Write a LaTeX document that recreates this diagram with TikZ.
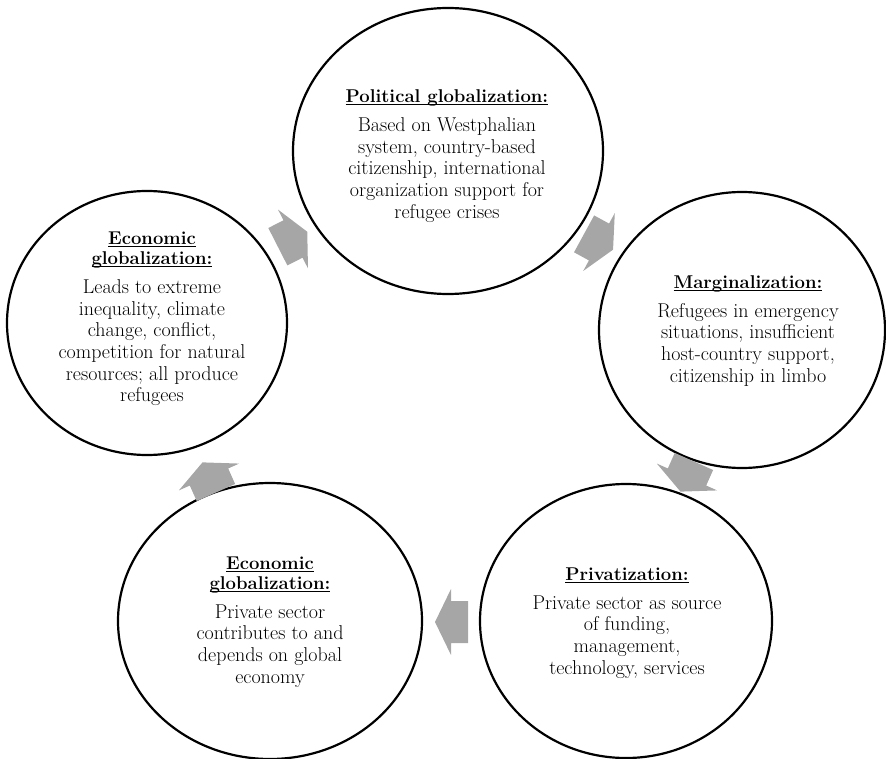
\documentclass[tikz,border=0pt]{standalone}
\usetikzlibrary{shapes.geometric}
\newcommand\ttl[1]{\setbox0=\hbox{\fontsize{18.5}{21.7}\selectfont\bfseries #1}\leavevmode\rlap{\rule[-2.6pt]{\wd0}{0.9pt}}\box0}
\begin{document}
\begin{tikzpicture}[x=1pt,y=-1pt,
  circ/.style={draw=black, line width=2.2pt, ellipse, inner sep=0pt},
  txt/.style={align=center, text=black, font=\fontsize{20}{21.7}\selectfont, inner sep=0pt},
  blk/.style={fill=black!35, draw=none}]
\useasboundingbox (0,0) rectangle (886,759);
% circles
\node[circ, minimum width=310pt, minimum height=286pt] (pol) at (448,151) {};
\node[circ, minimum width=286pt, minimum height=276pt] (mar) at (742,330) {};
\node[circ, minimum width=292pt, minimum height=274pt] (pri) at (626,621) {};
\node[circ, minimum width=304pt, minimum height=276pt] (ecb) at (270,621) {};
\node[circ, minimum width=280pt, minimum height=264pt] (ecl) at (147,323) {};
% texts
\node[txt] (polt) at (447,156) {\ttl{Political globalization:}\\[7pt]
  Based on Westphalian\\ system, country-based\\ citizenship, international\\
  organization support for\\ refugee crises};
\node[txt] (mart) at (748,331) {\ttl{Marginalization:}\\[7pt]
  Refugees in emergency\\ situations, insufficient\\ host-country support,\\ citizenship in limbo};
\node[txt] (prit) at (627,623) {\ttl{Privatization:}\\[7pt]
  Private sector as source\\ of funding,\\ management,\\ technology, services};
\node[txt] (ecbt) at (270,622) {\ttl{Economic}\\[-1.5pt] \ttl{globalization:}\\[7pt]
  Private sector\\ contributes to and\\ depends on global\\ economy};
\node[txt] (eclt) at (152,319) {\ttl{Economic}\\[-1.5pt] \ttl{globalization:}\\[7pt]
  Leads to extreme\\ inequality, climate\\ change, conflict,\\ competition for natural\\
  resources; all produce\\ refugees};
% block arrows
\foreach \px/\py/\ang in {599/242/-28.6, 687/477/-114, 451/622/180, 209/477/114, 293/239/27}{
  \fill[blk, shift={(\px,\py)}, rotate=\ang]
    (16,0) -- (0,33) -- (0,21) -- (-17,21) -- (-17,-21) -- (0,-21) -- (0,-33) -- cycle;
}
\end{tikzpicture}
\end{document}
